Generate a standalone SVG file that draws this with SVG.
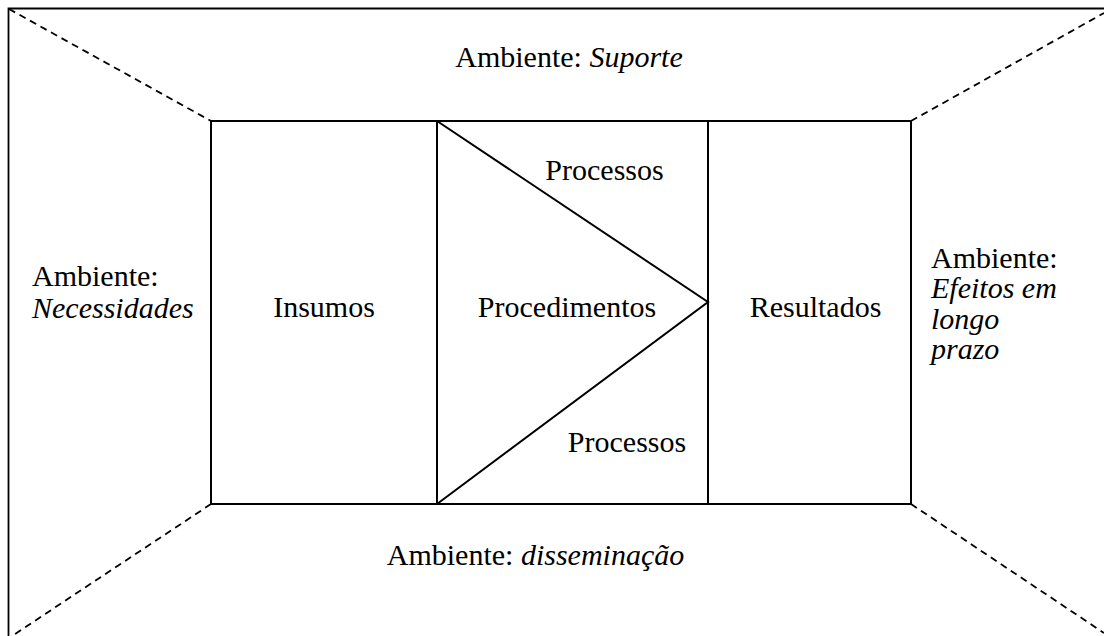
<svg xmlns="http://www.w3.org/2000/svg" width="1104" height="636" viewBox="0 0 1104 636">
<style>
.t{font-family:"Liberation Serif","Times New Roman",serif;font-size:30px;fill:#000}
.i{font-style:italic}
.box{fill:none;stroke:#000;stroke-width:2}
.dash{fill:none;stroke:#000;stroke-width:1.8;stroke-dasharray:7,5}
</style>
<rect width="1104" height="636" fill="#fff"/>
<g id="frame"><path d="M8.5,640 V8.5 H1110" fill="none" stroke="#000" stroke-width="1.8"/></g>
<g id="connectors">
<line class="dash" x1="9" y1="9" x2="211" y2="121"/>
<line class="dash" x1="911" y1="121" x2="1104" y2="13"/>
<line class="dash" x1="211" y1="504" x2="9" y2="638"/>
<line class="dash" x1="911" y1="504" x2="1104" y2="633"/>
</g>
<g id="insumos">
<rect class="box" x="211" y="121" width="226" height="383"/>
<text class="t" x="324" y="317" text-anchor="middle">Insumos</text>
</g>
<g id="procedimentos">
<rect class="box" x="437" y="121" width="271" height="383"/>
<polyline class="box" points="437,121 708,302 437,504"/>
<text class="t" x="567" y="317" text-anchor="middle">Procedimentos</text>
<text class="t" x="604.5" y="180" text-anchor="middle">Processos</text>
<text class="t" x="627" y="452" text-anchor="middle">Processos</text>
</g>
<g id="resultados">
<rect class="box" x="708" y="121" width="203" height="383"/>
<text class="t" x="815.5" y="317" text-anchor="middle">Resultados</text>
</g>
<g id="amb-suporte"><text class="t" x="569" y="67" text-anchor="middle">Ambiente: <tspan class="i">Suporte</tspan></text></g>
<g id="amb-necessidades">
<text class="t" x="32" y="286">Ambiente:</text>
<text class="t i" x="32" y="318">Necessidades</text>
</g>
<g id="amb-efeitos">
<text class="t" x="931" y="268">Ambiente:</text>
<text class="t i" x="931" y="298">Efeitos em</text>
<text class="t i" x="931" y="329">longo</text>
<text class="t i" x="931" y="359">prazo</text>
</g>
<g id="amb-disseminacao"><text class="t" x="535.5" y="565" text-anchor="middle">Ambiente: <tspan class="i">disseminação</tspan></text></g>
</svg>
